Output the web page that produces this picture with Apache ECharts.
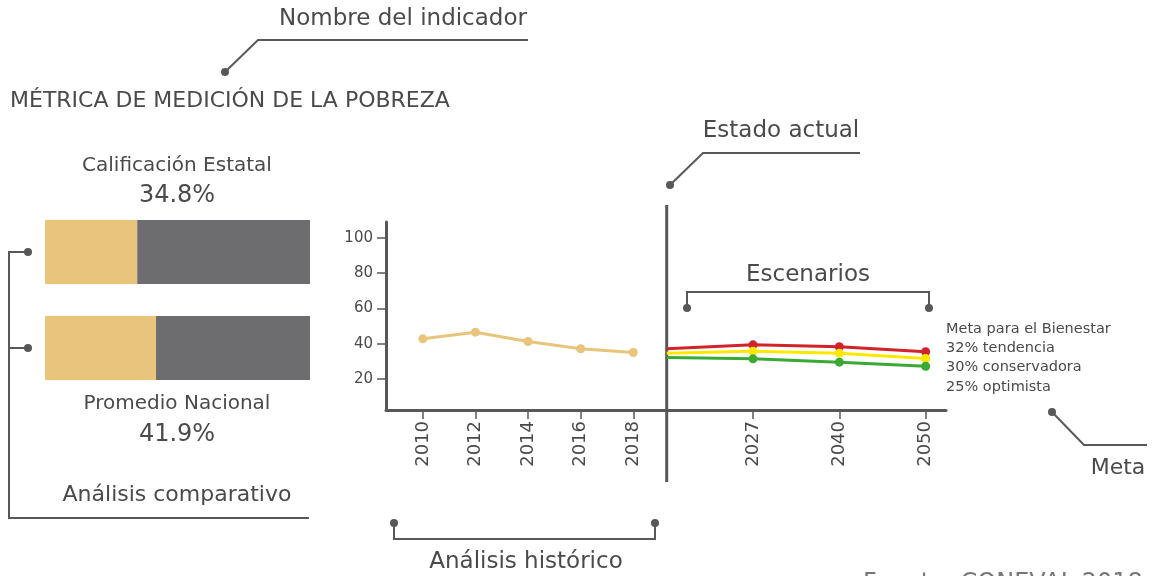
<!DOCTYPE html>
<html>
<head>
<meta charset="utf-8">
<script src="https://cdn.jsdelivr.net/npm/echarts@6/dist/echarts.min.js"></script>
<style>
  html, body { margin: 0; padding: 0; background: #fff; }
  #main { width: 1152px; height: 576px; }
</style>
</head>
<body>
<div id="main"></div>
<script>
// datos
let compareNames = ['Calificación Estatal', 'Promedio Nacional'];
let compareValues = [34.8, 41.9];

let histYears = [2010, 2012, 2014, 2016, 2018];
let histValues = [42.8, 46.6, 41.3, 37.2, 35.1];

let futYears = ['', '2027', '2040', '2050'];   // 0 = estado actual
let futPos = [0, 1, 2, 3];
let tendencia = [37.2, 39.4, 38.3, 35.5];
let conservadora = [34.7, 35.8, 34.7, 31.7];
let optimista = [32.2, 31.5, 29.6, 27.3];

let yTicks = [20, 40, 60, 80, 100];
let metaLines = ['Meta para el Bienestar', '32% tendencia', '30% conservadora', '25% optimista'];

const GOLD = '#e8c47c', GRAY = '#6d6d6f', INK = '#58585a', TXT = '#4a4a4c';
const FONT = 'DejaVu Sans';

let myChart = echarts.init(document.getElementById('main'));

function scen(values, color) {
    return {
        type: 'line',
        xAxisIndex: 2, yAxisIndex: 2,
        data: values.map(function (v, i) {
            let p = { value: [futPos[i], v] };
            if (i === 0) p.symbol = 'none';   // arranque en el estado actual
            return p;
        }),
        symbol: 'circle', symbolSize: 9,
        lineStyle: { color: color, width: 3 },
        itemStyle: { color: color },
        silent: true, z: 3
    };
}

// textos y lineas guia
function txt(x, y, s, size, align, fill) {
    return {
        type: 'text', x: x, y: y,
        style: { text: s, font: size + 'px "' + FONT + '"',
                 fill: fill || TXT, textAlign: align || 'center', textVerticalAlign: 'middle' }
    };
}
function pline(points) {
    return { type: 'polyline', shape: { points: points }, style: { stroke: INK, lineWidth: 2, fill: null } };
}
function dot(x, y) {
    return { type: 'circle', shape: { cx: x, cy: y, r: 4 }, style: { fill: INK } };
}

let graphics = [
    txt(403, 19, 'Nombre del indicador', 23),
    pline([[528, 40], [258, 40], [225, 72]]), dot(225, 72),
    txt(10, 101, 'MÉTRICA DE MEDICIÓN DE LA POBREZA', 22, 'left'),

    txt(177, 166, compareNames[0], 20),
    txt(177, 196, compareValues[0] + '%', 24),
    txt(177, 404, compareNames[1], 20),
    txt(177, 435, compareValues[1] + '%', 24),
    txt(177, 495, 'Análisis comparativo', 22),
    pline([[28, 252], [9, 252], [9, 518], [309, 518]]),
    pline([[9, 348], [28, 348]]),
    dot(28, 252), dot(28, 348),

    txt(781, 131, 'Estado actual', 23),
    pline([[860, 153], [703, 153], [670, 185]]), dot(670, 185),
    { type: 'line', shape: { x1: 666.7, y1: 205, x2: 666.7, y2: 482 }, style: { stroke: INK, lineWidth: 3 } },

    txt(808, 275, 'Escenarios', 23),
    pline([[687, 308], [687, 292], [929, 292], [929, 308]]),
    dot(687, 308), dot(929, 308),

    txt(1118, 468, 'Meta', 22),
    pline([[1052, 412], [1084, 445], [1147, 445]]), dot(1052, 412),

    pline([[394, 523], [394, 539], [655, 539], [655, 523]]),
    dot(394, 523), dot(655, 523),
    txt(526, 562, 'Análisis histórico', 23),

    txt(863, 584, 'Fuente: CONEVAL 2018', 24, 'left', '#77777a')
];
metaLines.forEach(function (s, i) {
    graphics.push(txt(946, 329 + i * 19.3, s, 14.5, 'left'));
});

let option = {
    backgroundColor: '#fff',
    animation: false,
    textStyle: { fontFamily: FONT },
    grid: [
        { left: 45, top: 204, width: 265, height: 192 },
        { left: 386, top: 222, width: 280.7, height: 188 },
        { left: 666.7, top: 222, width: 279.3, height: 188 }
    ],
    xAxis: [
        { gridIndex: 0, type: 'value', min: 0, max: 100, show: false },
        {
            gridIndex: 1, type: 'value', min: 2008.6, max: 2019.27,
            splitLine: { show: false },
            axisLine: { show: true, lineStyle: { color: INK, width: 3 } },
            axisTick: { show: true, customValues: histYears, length: 9, lineStyle: { color: INK, width: 1.5 } },
            axisLabel: {
                customValues: histYears, rotate: 90, margin: 11, color: TXT, fontSize: 18, fontFamily: FONT,
                formatter: function (v) { return String(v); }
            }
        },
        {
            gridIndex: 2, type: 'value', min: 0, max: 3.236,
            splitLine: { show: false },
            axisLine: { show: true, lineStyle: { color: INK, width: 3 } },
            axisTick: { show: true, customValues: futPos.slice(1), length: 9, lineStyle: { color: INK, width: 1.5 } },
            axisLabel: {
                customValues: futPos.slice(1), rotate: 90, margin: 11, color: TXT, fontSize: 18, fontFamily: FONT,
                formatter: function (v) { return futYears[Math.round(v)]; }
            }
        }
    ],
    yAxis: [
        { gridIndex: 0, type: 'category', data: compareNames, inverse: true, show: false },
        {
            gridIndex: 1, type: 'value', min: 2.5, max: 109,
            splitLine: { show: false },
            axisLine: { show: true, lineStyle: { color: INK, width: 3 } },
            axisTick: { show: true, customValues: yTicks, length: 9, lineStyle: { color: INK, width: 1.5 } },
            axisLabel: { customValues: yTicks, margin: 13, color: TXT, fontSize: 15, fontFamily: FONT }
        },
        { gridIndex: 2, type: 'value', min: 2.5, max: 109, show: false }
    ],
    series: [
        {
            type: 'bar', xAxisIndex: 0, yAxisIndex: 0, stack: 'c',
            data: compareValues, barWidth: 64, itemStyle: { color: GOLD }, silent: true
        },
        {
            type: 'bar', xAxisIndex: 0, yAxisIndex: 0, stack: 'c',
            data: compareValues.map(function (v) { return 100 - v; }), barWidth: 64,
            itemStyle: { color: GRAY }, silent: true
        },
        {
            type: 'line', xAxisIndex: 1, yAxisIndex: 1,
            data: histYears.map(function (y, i) { return [y, histValues[i]]; }),
            symbol: 'circle', symbolSize: 9,
            lineStyle: { color: GOLD, width: 3 }, itemStyle: { color: GOLD }, silent: true
        },
        scen(tendencia, '#d2232a'),
        scen(conservadora, '#ffe800'),
        scen(optimista, '#3aaa35')
    ],
    graphic: graphics
};

myChart.setOption(option);
</script>
</body>
</html>
